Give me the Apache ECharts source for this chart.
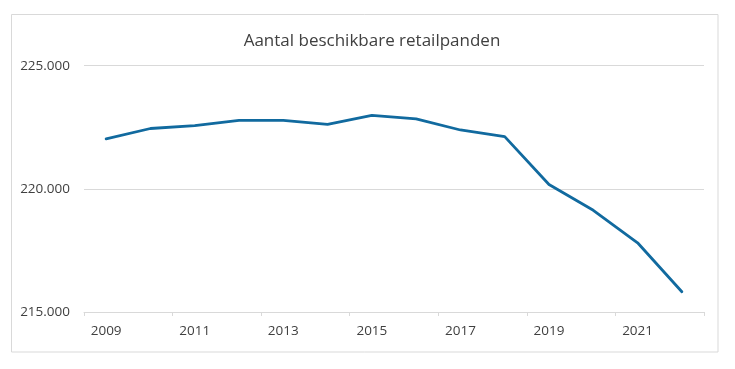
<!DOCTYPE html>
<html>
<head>
<meta charset="utf-8">
<script src="https://cdn.jsdelivr.net/npm/echarts@6/dist/echarts.min.js"></script>
<style>
html,body{margin:0;padding:0;background:#fff;}
#chart{width:735px;height:369px;}
</style>
</head>
<body>
<div id="chart"></div>
<script>
const titleText = 'Aantal beschikbare retailpanden';
const years = ['2009','2010','2011','2012','2013','2014','2015','2016','2017','2018','2019','2020','2021','2022'];
const panden = [222030, 222450, 222570, 222780, 222780, 222620, 222985, 222840, 222390, 222120, 220175, 219130, 217810, 215820];
const yTicks = [215000, 220000, 225000];

const chart = echarts.init(document.getElementById('chart'), null, {renderer: 'canvas'});
const font = '"Open Sans", "Noto Sans", sans-serif';
chart.setOption({
  animation: false,
  backgroundColor: '#ffffff',
  title: {
    text: titleText,
    left: 367, top: 28, textAlign: 'center',
    textStyle: {fontFamily: font, fontSize: 17, fontWeight: 'normal', color: '#404040'}
  },
  graphic: [{
    type: 'rect', silent: true, z: -1,
    shape: {x: 11.5, y: 14.5, width: 706.5, height: 337.5},
    style: {fill: 'none', stroke: '#d9d9d9', lineWidth: 1}
  }],
  grid: {left: 84, right: 31, top: 65.7, bottom: 57, containLabel: false},
  xAxis: {
    type: 'category',
    data: years,
    boundaryGap: true,
    axisLine: {lineStyle: {color: '#d9d9d9', width: 1}},
    axisTick: {show: true, interval: 1, length: 4, lineStyle: {color: '#d9d9d9'}},
    axisLabel: {interval: 1, margin: 12, color: '#404040', fontFamily: font, fontSize: 13.5}
  },
  yAxis: {
    type: 'value',
    min: yTicks[0], max: yTicks[yTicks.length - 1], interval: 5000,
    axisLine: {show: false},
    axisTick: {show: false},
    splitLine: {lineStyle: {color: '#d9d9d9', width: 1}},
    axisLabel: {
      margin: 14, color: '#404040', fontFamily: font, fontSize: 13.5,
      formatter: v => v.toString().replace(/\B(?=(\d{3})+(?!\d))/g, '.')
    }
  },
  series: [{
    type: 'line',
    data: panden,
    showSymbol: false,
    symbol: 'none',
    lineStyle: {color: '#116a9f', width: 2.8, cap: 'round', join: 'round'}
  }]
});
</script>
</body>
</html>
